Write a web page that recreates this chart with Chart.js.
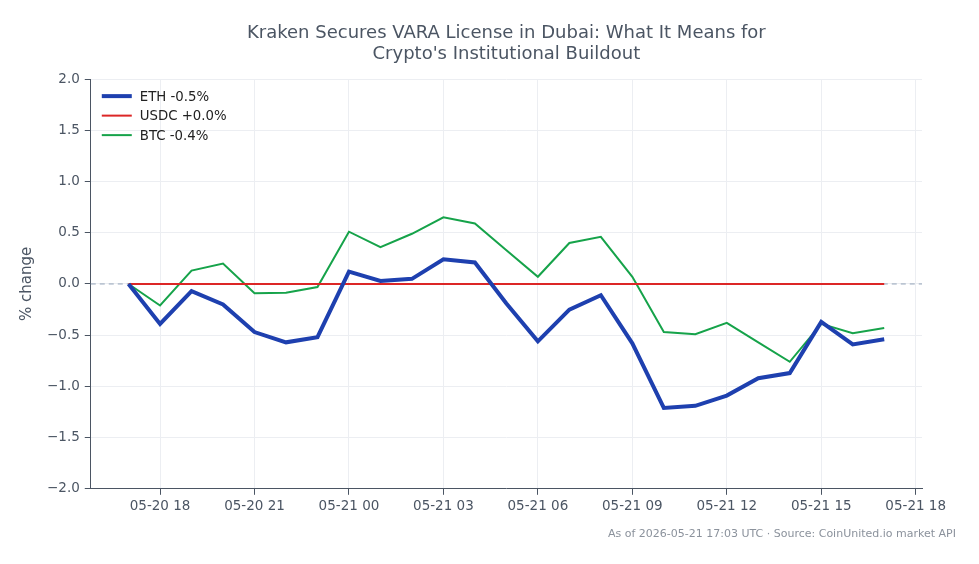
<!DOCTYPE html>
<html>
<head>
<meta charset="utf-8">
<script src="https://cdn.jsdelivr.net/npm/chart.js@4.4.1/dist/chart.umd.min.js"></script>
<style>
  html, body { margin: 0; padding: 0; background: #fff; }
  #wrap { width: 979px; height: 564px; position: relative; }
</style>
</head>
<body>
<div id="wrap"><canvas id="chart"></canvas></div>
<script>
// hours since 05-20 00:00 UTC (hourly samples)
const hours = [17, 18, 19, 20, 21, 22, 23, 24, 25, 26, 27, 28, 29, 30, 31, 32, 33, 34, 35, 36, 37, 38, 39, 40, 41];
const xTicks = [18, 21, 24, 27, 30, 33, 36, 39, 42];
const yTicks = [-2, -1.5, -1, -0.5, 0, 0.5, 1, 1.5, 2];

// % change
const ethValues = [0.0, -0.39, -0.07, -0.20, -0.47, -0.57, -0.52, 0.12, 0.03, 0.05, 0.24, 0.21, -0.19, -0.56, -0.25, -0.11, -0.58, -1.21, -1.19, -1.09, -0.92, -0.87, -0.37, -0.59, -0.54];
const usdcValues = [0, 0, 0, 0, 0, 0, 0, 0, 0, 0, 0, 0, 0, 0, 0, 0, 0, 0, 0, 0, 0, 0, 0, 0, 0];
const btcValues = [0.0, -0.21, 0.13, 0.20, -0.09, -0.085, -0.03, 0.51, 0.36, 0.49, 0.65, 0.59, 0.33, 0.07, 0.40, 0.46, 0.07, -0.47, -0.49, -0.38, -0.57, -0.76, -0.39, -0.48, -0.43];

const seriesNames = ['ETH -0.5%', 'USDC +0.0%', 'BTC -0.4%'];
const titleLines = ['Kraken Secures VARA License in Dubai: What It Means for', "Crypto's Institutional Buildout"];
const footerText = 'As of 2026-05-21 17:03 UTC \u00b7 Source: CoinUnited.io market API';

const FONT = '"DejaVu Sans", "Liberation Sans", sans-serif';
const TEXT = '#4b5563';

const pts = (vals) => vals.map((v, i) => ({ x: hours[i], y: v }));

function hourLabel(h) {
  const day = h < 24 ? 20 : 21;
  const hh = String(h % 24).padStart(2, '0');
  return `05-${day} ${hh}`;
}

// dashed zero line across the plot
const zeroLine = {
  id: 'zeroLine',
  beforeDatasetsDraw(chart) {
    const { ctx, chartArea, scales } = chart;
    const y = scales.y.getPixelForValue(0);
    ctx.save();
    ctx.strokeStyle = '#94a3b8';
    ctx.lineWidth = 1;
    ctx.setLineDash([5, 4]);
    ctx.beginPath();
    ctx.moveTo(chartArea.left, y);
    ctx.lineTo(chartArea.right, y);
    ctx.stroke();
    ctx.restore();
  }
};

// legend inside the plot, top-left (built-in one would sit outside)
const innerLegend = {
  id: 'innerLegend',
  afterDatasetsDraw(chart) {
    const { ctx, chartArea } = chart;
    const x0 = chartArea.left + 11;
    let y = chartArea.top + 17;
    ctx.save();
    ctx.font = '13.3px ' + FONT;
    ctx.textBaseline = 'middle';
    ctx.textAlign = 'left';
    chart.data.datasets.forEach((ds) => {
      ctx.strokeStyle = ds.borderColor;
      ctx.lineWidth = ds.borderWidth;
      ctx.beginPath();
      ctx.moveTo(x0, y);
      ctx.lineTo(x0 + 30, y);
      ctx.stroke();
      ctx.fillStyle = '#222';
      ctx.fillText(ds.label, x0 + 38, y + 1);
      y += 19.5;
    });
    ctx.restore();
  }
};

// source note, bottom right
const footer = {
  id: 'footer',
  afterDraw(chart) {
    const { ctx } = chart;
    ctx.save();
    ctx.font = '11px ' + FONT;
    ctx.fillStyle = '#8b929c';
    ctx.textAlign = 'right';
    ctx.textBaseline = 'middle';
    ctx.fillText(footerText, chart.width - 23, 534);
    ctx.restore();
  }
};

new Chart(document.getElementById('chart'), {
  type: 'line',
  data: {
    datasets: [
      { label: seriesNames[0], data: pts(ethValues), borderColor: '#1e40af', backgroundColor: '#1e40af', borderWidth: 4, pointRadius: 0, tension: 0 },
      { label: seriesNames[1], data: pts(usdcValues), borderColor: '#dc2626', backgroundColor: '#dc2626', borderWidth: 2, pointRadius: 0, tension: 0 },
      { label: seriesNames[2], data: pts(btcValues), borderColor: '#16a34a', backgroundColor: '#16a34a', borderWidth: 2, pointRadius: 0, tension: 0 }
    ]
  },
  options: {
    responsive: true,
    maintainAspectRatio: false,
    animation: false,
    layout: { padding: { top: 13, right: 57, bottom: 45, left: 18 } },
    plugins: {
      title: {
        display: true,
        text: titleLines,
        fullSize: false,
        color: TEXT,
        font: { family: FONT, size: 18, weight: 'normal', lineHeight: 1.17 },
        padding: { top: 10, bottom: 14 }
      },
      legend: { display: false },
      tooltip: { enabled: false }
    },
    scales: {
      x: {
        type: 'linear',
        min: 15.8,
        max: 42.2,
        afterBuildTicks: (scale) => { scale.ticks = xTicks.map(v => ({ value: v })); },
        ticks: {
          color: TEXT,
          font: { family: FONT, size: 13.5 },
          maxRotation: 0,
          padding: 4,
          callback: (v) => hourLabel(v)
        },
        grid: { color: '#eceef2', tickColor: TEXT, tickLength: 6 },
        border: { color: TEXT, width: 1 }
      },
      y: {
        min: -2,
        max: 2,
        afterBuildTicks: (scale) => { scale.ticks = yTicks.map(v => ({ value: v })); },
        ticks: {
          color: TEXT,
          font: { family: FONT, size: 13.5 },
          padding: 5,
          callback: (v) => (v < 0 ? '\u2212' : '') + Math.abs(v).toFixed(1)
        },
        title: {
          display: true,
          text: '% change',
          color: TEXT,
          font: { family: FONT, size: 15 },
          padding: { top: 0, bottom: 6 }
        },
        grid: { color: '#eceef2', tickColor: TEXT, tickLength: 6 },
        border: { color: TEXT, width: 1 }
      }
    }
  },
  plugins: [zeroLine, innerLegend, footer]
});
</script>
</body>
</html>
